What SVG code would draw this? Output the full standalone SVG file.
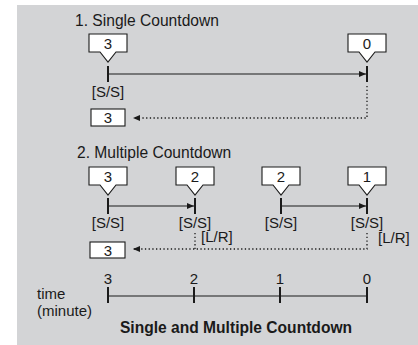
<svg xmlns="http://www.w3.org/2000/svg" width="418" height="345" viewBox="0 0 418 345">
<style>
text{font-family:"Liberation Sans",Arial,sans-serif;font-size:15px;fill:#1a1a1a}
.t{font-size:15.6px}
.b{font-weight:bold;font-size:15.6px}
.m{text-anchor:middle}
.call{fill:#fff;stroke:#1a1a1a;stroke-width:1.1}
.box{fill:#fff;stroke:#1a1a1a;stroke-width:1.1}
.tick{stroke:#1a1a1a;stroke-width:2}
.ln{stroke:#1a1a1a;stroke-width:1.2;fill:none}
.dot{stroke:#1a1a1a;stroke-width:1.3;fill:none;stroke-dasharray:1.3 2.4}
</style>
<defs>
<marker id="ah" markerWidth="8" markerHeight="8" refX="7" refY="4" orient="auto" markerUnits="userSpaceOnUse">
<path d="M0,1 L7,4 L0,7 Z" fill="#1a1a1a"/>
</marker>
</defs>
<rect x="17" y="5" width="401" height="340" fill="#d3d4d6"/>
<text class="t" x="75" y="26">1. Single Countdown</text>
<text class="t" x="77" y="158">2. Multiple Countdown</text>

<g id="s1-start">
<path class="call" d="M89,34 H127 V52 H116 L108,62 L100,52 H89 Z"/>
<text class="m" x="108" y="49">3</text>
<line class="tick" x1="108" y1="66" x2="108" y2="82"/>
<text class="m" x="108" y="97">[S/S]</text>
</g>
<g id="s1-end">
<path class="call" d="M348,34 H386 V52 H375 L367,62 L359,52 H348 Z"/>
<text class="m" x="367" y="49">0</text>
<line class="tick" x1="367" y1="66" x2="367" y2="82"/>
</g>
<g id="s1-reset">
<rect class="box" x="91" y="109" width="34" height="17"/>
<text class="m" x="108" y="123">3</text>
</g>

<g id="s2-a">
<path class="call" d="M89,167 H127 V185 H116 L108,195 L100,185 H89 Z"/>
<text class="m" x="108" y="182">3</text>
<line class="tick" x1="108" y1="198" x2="108" y2="214"/>
<text class="m" x="108" y="228">[S/S]</text>
</g>
<g id="s2-b">
<path class="call" d="M176,167 H214 V185 H203 L195,195 L187,185 H176 Z"/>
<text class="m" x="195" y="182">2</text>
<line class="tick" x1="195" y1="198" x2="195" y2="214"/>
<text class="m" x="195" y="228">[S/S]</text>
<text x="201" y="242">[L/R]</text>
</g>
<g id="s2-c">
<path class="call" d="M262,167 H300 V185 H289 L281,195 L273,185 H262 Z"/>
<text class="m" x="281" y="182">2</text>
<line class="tick" x1="281" y1="198" x2="281" y2="214"/>
<text class="m" x="281" y="228">[S/S]</text>
</g>
<g id="s2-d">
<path class="call" d="M348,167 H386 V185 H375 L367,195 L359,185 H348 Z"/>
<text class="m" x="367" y="182">1</text>
<line class="tick" x1="367" y1="198" x2="367" y2="214"/>
<text class="m" x="367" y="228">[S/S]</text>
<text x="378" y="243">[L/R]</text>
</g>
<g id="s2-reset">
<rect class="box" x="90" y="242" width="35" height="16"/>
<text class="m" x="108" y="256">3</text>
</g>

<g id="timeline">
<text x="37" y="299">time</text>
<text x="37" y="316">(minute)</text>
<line class="ln" x1="108" y1="296" x2="367" y2="296"/>
<line class="tick" x1="108" y1="287" x2="108" y2="303"/>
<line class="tick" x1="194" y1="287" x2="194" y2="303"/>
<line class="tick" x1="280" y1="287" x2="280" y2="303"/>
<line class="tick" x1="367" y1="287" x2="367" y2="303"/>
<text class="m" x="108" y="284">3</text>
<text class="m" x="194" y="284">2</text>
<text class="m" x="280" y="284">1</text>
<text class="m" x="367" y="284">0</text>
</g>

<g id="connectors">
<line class="ln" x1="108" y1="74" x2="366" y2="74" marker-end="url(#ah)"/>
<polyline class="dot" points="367,86 367,118 133,118" marker-end="url(#ah)"/>
<line class="ln" x1="108" y1="206" x2="194" y2="206" marker-end="url(#ah)"/>
<line class="ln" x1="281" y1="206" x2="366" y2="206" marker-end="url(#ah)"/>
<line class="dot" x1="195" y1="233" x2="195" y2="249"/>
<polyline class="dot" points="367,233 367,249 133,249" marker-end="url(#ah)"/>
</g>

<text class="b m" x="236" y="333">Single and Multiple Countdown</text>
</svg>
